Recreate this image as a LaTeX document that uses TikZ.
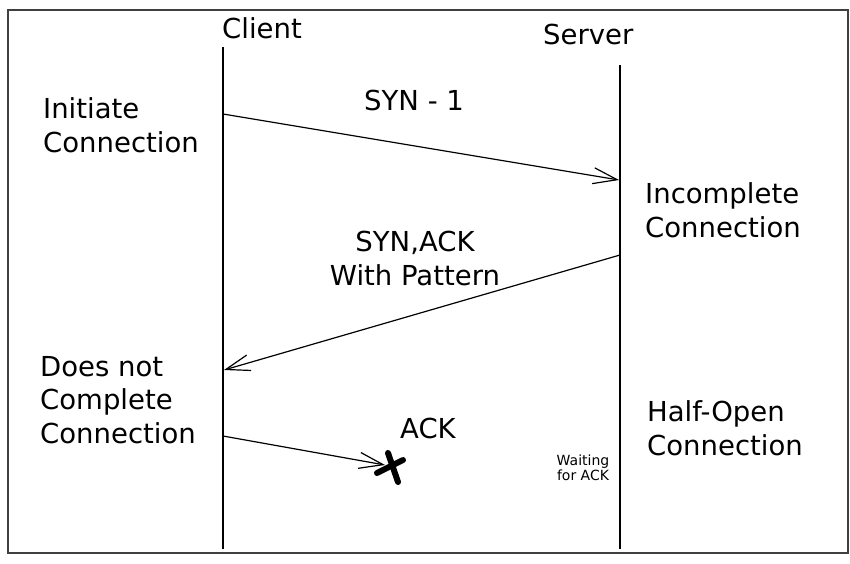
\documentclass[tikz,border=0pt]{standalone}
\usepackage{fontspec}
\setmainfont{DejaVu Sans}
\usetikzlibrary{arrows.meta}
\begin{document}
\begin{tikzpicture}[x=1pt,y=-1pt,
  lbl/.style={font=\fontsize{27.5}{33.5}\selectfont, inner sep=0pt, anchor=base west, align=left},
  small/.style={font=\fontsize{14}{15}\selectfont, inner sep=0pt, align=center},
  life/.style={line width=1.4pt},
  msg/.style={line width=1.2pt, -{Straight Barb[length=24pt,width=16pt,line width=1.2pt]}},
  cross/.style={line width=6pt, line cap=round}]
\useasboundingbox (0,0) rectangle (850,563);
\draw[line width=2pt, draw=black!75] (8,10) rectangle (848,553);
% lifelines
\coordinate (c0) at (223,47);
\coordinate (c1) at (223,549);
\coordinate (s0) at (620,65);
\coordinate (s1) at (620,549);
\draw[life] (c0) -- (c1);
\draw[life] (s0) -- (s1);
% headers
\node[lbl] (client) at (222,38) {Client};
\node[lbl] (server) at (543,44) {Server};
% side labels (base = baseline of last line)
\node[lbl] (init) at (43,152) {Initiate\\Connection};
\node[lbl] (incomp) at (645,237) {Incomplete\\Connection};
\node[lbl] (doesnot) at (40,443) {Does not\\Complete\\Connection};
\node[lbl] (halfopen) at (647,455) {Half-Open\\Connection};
% message labels
\node[lbl] (syn) at (364,110) {SYN - 1};
\node[lbl, align=center, anchor=base] (synack) at (415,285) {SYN,ACK\\With Pattern};
\node[lbl] (ack) at (400,438) {ACK};
\node[small] (wait) at (583,468) {Waiting\\for ACK};
% message arrows
\coordinate (m1a) at (223,114);
\coordinate (m1b) at (619,180);
\coordinate (m2a) at (620,255);
\coordinate (m2b) at (224,370);
\coordinate (m3a) at (223,436);
\coordinate (m3b) at (385,465);
\draw[msg] (m1a) -- (m1b);
\draw[msg] (m2a) -- (m2b);
\draw[msg] (m3a) -- (m3b);
% lost message cross
\coordinate (x1) at (388,453);
\coordinate (x2) at (398,482);
\coordinate (x3) at (377,473);
\coordinate (x4) at (403,460);
\draw[cross] (x1) -- (x2);
\draw[cross] (x3) -- (x4);
\end{tikzpicture}
\end{document}
